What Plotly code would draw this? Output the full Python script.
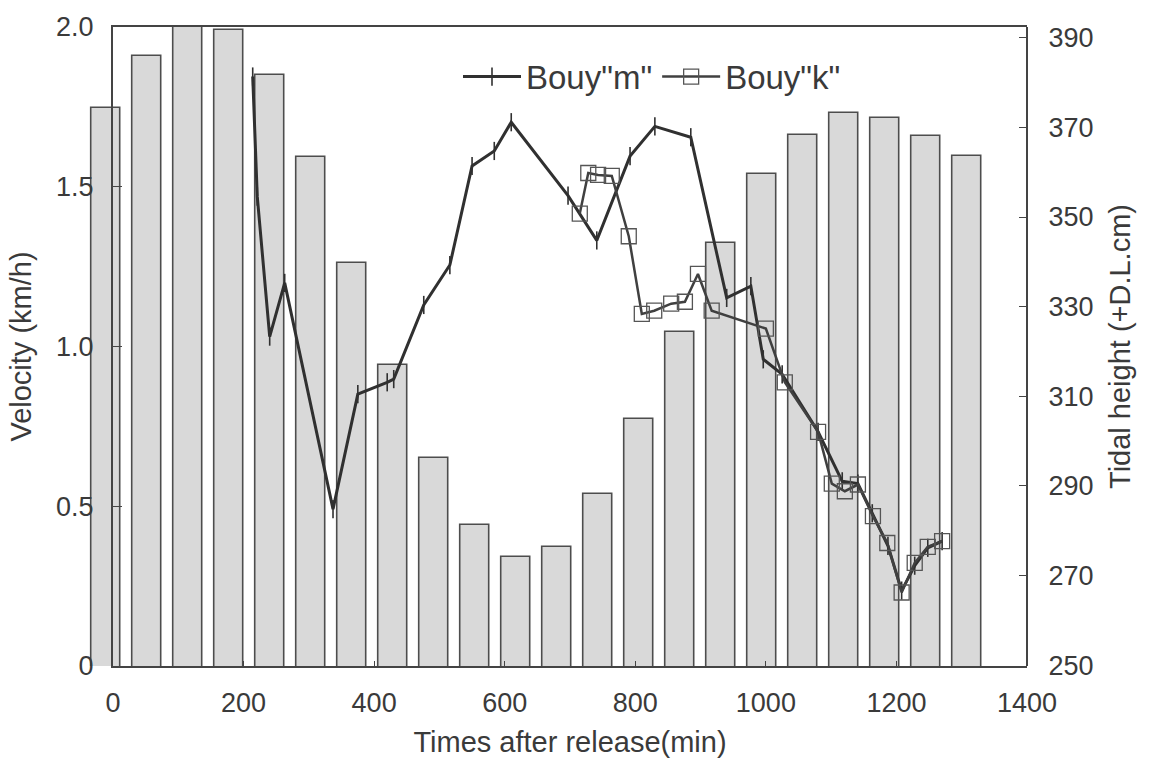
import plotly.graph_objects as go

# Tidal height bars (hourly)
bar_hour = [0, 1, 2, 3, 4, 5, 6, 7, 8, 9, 10, 11, 12, 13, 14, 15, 16, 17, 18, 19, 20, 21]
tidal_height = [374.4, 386.0, 392.4, 391.8, 381.6, 363.3, 339.8, 316.9, 296.2, 281.3, 274.2,
                276.4, 288.2, 304.9, 324.4, 344.2, 359.6, 368.4, 373.3, 372.2, 368.0, 363.6]

# Bouy "m"
m_time = [214, 221, 240, 263, 337, 375, 420, 430, 476, 516, 550, 584, 610, 697, 741, 792,
          830, 885, 940, 977, 996, 1025, 1080, 1117, 1141, 1163, 1187, 1208, 1228, 1248, 1270]
m_vel = [1.845, 1.469, 1.031, 1.199, 0.491, 0.851, 0.888, 0.898, 1.130, 1.255, 1.565, 1.612,
         1.702, 1.472, 1.332, 1.596, 1.689, 1.655, 1.152, 1.189, 0.960, 0.913, 0.733, 0.578,
         0.571, 0.478, 0.376, 0.236, 0.314, 0.370, 0.391]

# Bouy "k"
k_time = [715, 728, 743, 764, 790, 810, 829, 855, 876, 896, 917, 1000, 1029, 1080, 1101,
          1121, 1141, 1164, 1186, 1208, 1228, 1248, 1270]
k_vel = [1.416, 1.543, 1.537, 1.534, 1.345, 1.102, 1.112, 1.134, 1.140, 1.227, 1.112, 1.056,
         0.888, 0.733, 0.571, 0.547, 0.568, 0.469, 0.385, 0.230, 0.323, 0.373, 0.391]

x_ticks = [0, 200, 400, 600, 800, 1000, 1200, 1400]
v_ticks = [0, 0.5, 1.0, 1.5, 2.0]
v_ticktext = ["0", "0.5", "1.0", "1.5", "2.0"]
h_ticks = [250, 270, 290, 310, 330, 350, 370, 390]

FONT = "Liberation Sans, Arial, sans-serif"
TXT = "#3a3a3a"
AX = "#444444"

fig = go.Figure()

fig.add_trace(go.Bar(
    x=bar_hour, y=tidal_height, xaxis="x", yaxis="y", width=0.73,
    marker=dict(color="#d9d9d9", line=dict(color="#4d4d4d", width=1.6)),
    showlegend=False, hoverinfo="y",
))

fig.add_trace(go.Scatter(
    x=m_time, y=m_vel, xaxis="x2", yaxis="y2", name='Bouy"m"',
    mode="lines+markers",
    line=dict(color="#303030", width=3),
    marker=dict(symbol="line-ns", size=13, line=dict(color="#303030", width=1.6)),
))

fig.add_trace(go.Scatter(
    x=k_time, y=k_vel, xaxis="x2", yaxis="y2", name='Bouy"k"',
    mode="lines+markers",
    line=dict(color="#404040", width=2.5),
    marker=dict(symbol="square-open", size=15, color="#555555",
                line=dict(color="#555555", width=1.3)),
))

L, R, T, B = 80, 124, 22, 104
PW = 1151 - L - R

fig.update_layout(
    width=1151, height=770,
    margin=dict(l=L, r=R, t=T, b=B),
    paper_bgcolor="white",
    plot_bgcolor="rgba(0,0,0,0)",
    font=dict(family=FONT, size=27, color=TXT),
    bargap=0,
    xaxis=dict(
        domain=[5.5 / PW, 907.5 / PW], range=[-0.5, 21.5],
        visible=False, fixedrange=True,
    ),
    yaxis=dict(
        anchor="free", position=1.0, side="right",
        range=[249.8, 392.4], tickvals=h_ticks,
        showline=True, linecolor=AX, linewidth=2,
        ticks="inside", ticklen=7, tickcolor=AX, tickwidth=1.2,
        ticklabelstandoff=15, tickfont=dict(size=27),
        showgrid=False, zeroline=False,
        title=dict(text="Tidal height (+D.L.cm)", standoff=16,
                   font=dict(size=29, color=TXT)),
    ),
    xaxis2=dict(
        domain=[(113 - L) / PW, 1.0], anchor="y2", range=[0, 1400],
        tickvals=x_ticks, tickfont=dict(size=27),
        showline=True, mirror=True, linecolor=AX, linewidth=2,
        ticks="inside", ticklen=5, tickcolor=AX,
        ticklabelstandoff=12,
        showgrid=False, zeroline=False,
        title=dict(text="Times after release(min)", standoff=14,
                   font=dict(size=29, color=TXT)),
    ),
    yaxis2=dict(
        anchor="x2", range=[0, 2.0], tickvals=v_ticks, ticktext=v_ticktext,
        tickfont=dict(size=27),
        showline=True, mirror=False, linecolor=AX, linewidth=2,
        ticks="inside", ticklen=9, tickcolor=AX, tickwidth=1.2,
        ticklabelstandoff=12,
        showgrid=False, zeroline=False,
        title=dict(text="Velocity (km/h)", standoff=16,
                   font=dict(size=29, color=TXT)),
    ),
    legend=dict(
        orientation="h", x=(458 - L) / PW, xanchor="left",
        y=(666 - 72) / 644, yanchor="middle",
        bgcolor="rgba(0,0,0,0)", font=dict(size=33, color=TXT),
        itemwidth=58, tracegroupgap=0,
    ),
)

fig.write_html("out.html")
